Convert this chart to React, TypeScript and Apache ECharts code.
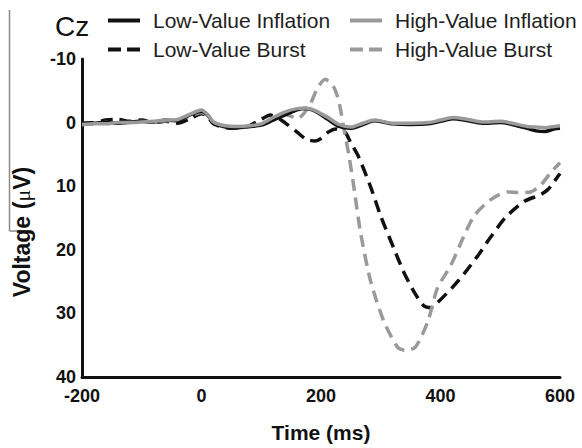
import React, { useEffect, useRef } from "react";
import * as echarts from "echarts";

// Time points (ms) and voltages (µV; positive plotted downward)
const lowInflationT = [-200, -180, -160, -140, -120, -100, -80, -60, -40, -20, 0, 10, 20, 40, 60, 80, 100, 120, 140, 160, 175, 190, 210, 230, 250, 270, 290, 320, 350, 380, 400, 420, 440, 470, 500, 520, 545, 560, 575, 590, 600];
const lowInflationV = [0.2, 0.1, 0.0, 0.1, -0.1, -0.2, -0.1, -0.4, -0.3, -1.2, -1.8, -1.2, 0.0, 0.7, 0.8, 0.6, 0.4, -0.4, -1.2, -2.0, -2.2, -1.8, -0.6, 0.6, 0.9, 0.3, -0.3, 0.2, 0.3, 0.2, -0.2, -0.6, -0.4, 0.1, 0.0, 0.3, 0.9, 1.3, 1.4, 1.0, 0.9];

const highInflationT = [-200, -180, -160, -140, -120, -100, -80, -60, -40, -20, 0, 10, 20, 40, 60, 80, 100, 120, 140, 160, 175, 190, 210, 230, 250, 270, 290, 320, 350, 380, 400, 420, 440, 470, 500, 520, 545, 560, 575, 590, 600];
const highInflationV = [0.3, 0.2, 0.2, 0.0, 0.0, -0.1, -0.2, -0.4, -0.5, -1.3, -2.0, -1.3, -0.1, 0.5, 0.6, 0.5, 0.2, -0.8, -1.7, -2.2, -2.3, -1.9, -0.9, 0.3, 0.7, 0.1, -0.4, 0.1, 0.1, 0.0, -0.4, -0.8, -0.6, -0.1, -0.2, 0.1, 0.6, 0.7, 0.8, 0.6, 0.5];

const lowBurstT = [-200, -180, -160, -140, -120, -100, -80, -60, -40, -20, 0, 10, 20, 40, 60, 80, 100, 115, 130, 145, 160, 175, 190, 200, 212, 225, 240, 250, 263, 283, 300, 322, 338, 355, 372, 384, 395, 420, 440, 462, 484, 509, 540, 568, 580, 590, 600];
const lowBurstV = [0.1, 0.0, -0.4, -0.5, -0.2, -0.4, 0.0, -0.2, 0.1, -0.6, -1.4, -1.0, 0.2, 0.8, 0.9, 0.5, -0.5, -1.2, -0.6, 0.4, 1.5, 2.6, 2.9, 2.5, 1.5, 1.0, 1.5, 3.2, 5.4, 10.1, 14.7, 19.8, 23.4, 26.5, 28.8, 29.1, 28.3, 25.9, 23.7, 21.0, 18.0, 14.9, 12.4, 11.3, 10.5, 9.3, 8.0];

const highBurstT = [-200, -180, -160, -140, -120, -100, -80, -60, -40, -20, 0, 20, 40, 60, 80, 100, 120, 135, 150, 160, 170, 182, 194, 207, 220, 228, 233, 238, 246, 254, 266, 283, 305, 328, 340, 358, 379, 395, 417, 437, 456, 484, 513, 530, 551, 568, 585, 600];
const highBurstV = [0.3, 0.2, 0.0, 0.1, 0.0, -0.2, -0.1, -0.3, -0.4, -1.0, -1.6, -0.1, 0.6, 0.8, 0.6, 0.3, -0.6, -1.4, -1.0, -0.6, -1.3, -2.9, -5.4, -6.8, -5.8, -4.0, -1.9, 0.8, 4.8, 9.5, 17.2, 24.9, 31.2, 35.3, 35.8, 35.3, 31.2, 26.0, 22.5, 18.3, 14.7, 12.1, 10.9, 11.0, 10.9, 9.8, 7.8, 6.3];

const xTicks = { min: -200, max: 600, interval: 200 };
const yTicks = { min: -10, max: 40, interval: 10 };

const seriesNames = ["Low-Value Inflation", "High-Value Inflation", "Low-Value Burst", "High-Value Burst"];

const FONT = '"Liberation Sans", Arial, Helvetica, sans-serif';
const BLACK = "#111111";
const GRAY = "#9a9a9a";

const SOLID_ICON = "path://M0,0H32V4H0Z";
const DASH_ICON = "path://M0,0H13V4H0Z M19,0H32V4H19Z";

const zip = (t: number[], v: number[]) => t.map((x, i) => [x, v[i]]);

export default function App() {
  const ref = useRef<HTMLDivElement>(null);

  useEffect(() => {
    if (!ref.current) return;
    const chart = echarts.init(ref.current, undefined, { renderer: "svg" });

    const mkSeries = (name: string, t: number[], v: number[], color: string, dashed: boolean, z: number) => ({
      name,
      type: "line",
      data: zip(t, v),
      symbol: "none",
      smooth: 0.25,
      z,
      lineStyle: { color, width: 3.5, type: dashed ? [12, 7] : "solid" },
      itemStyle: { color },
    });

    const legendText = { fontFamily: FONT, fontSize: 21, color: "#1e1e1e", padding: [0, 0, 0, 8] };
    const mkLegend = (name: string, left: number, top: number, dashed: boolean) => ({
      data: [{ name, icon: dashed ? DASH_ICON : SOLID_ICON }],
      left,
      top,
      itemWidth: 32,
      itemHeight: 4,
      padding: 0,
      textStyle: legendText,
      selectedMode: false,
    });

    chart.setOption({
      animation: false,
      backgroundColor: "#ffffff",
      grid: { left: 82, right: 22, top: 59, bottom: 68, containLabel: false },
      legend: [
        mkLegend(seriesNames[0], 108, 10, false),
        mkLegend(seriesNames[1], 350, 10, false),
        mkLegend(seriesNames[2], 108, 39, true),
        mkLegend(seriesNames[3], 350, 39, true),
      ],
      xAxis: {
        type: "value",
        min: xTicks.min,
        max: xTicks.max,
        interval: xTicks.interval,
        name: "Time (ms)",
        nameLocation: "middle",
        nameGap: 45,
        nameTextStyle: { fontFamily: FONT, fontSize: 21, fontWeight: "bold", color: BLACK },
        axisLine: { show: true, onZero: false, lineStyle: { color: BLACK, width: 3 } },
        axisTick: { show: false },
        splitLine: { show: false },
        axisLabel: { fontFamily: FONT, fontSize: 18, fontWeight: "bold", color: BLACK, margin: 10 },
      },
      yAxis: {
        type: "value",
        inverse: true,
        min: yTicks.min,
        max: yTicks.max,
        interval: yTicks.interval,
        axisLine: { show: true, onZero: false, lineStyle: { color: BLACK, width: 3 } },
        axisTick: { show: false },
        splitLine: { show: false },
        axisLabel: { fontFamily: FONT, fontSize: 18, fontWeight: "bold", color: BLACK, margin: 6 },
      },
      graphic: [
        {
          type: "line",
          shape: { x1: 9.5, y1: 10, x2: 9.5, y2: 231 },
          style: { stroke: "#8a8a8a", lineWidth: 1.5 },
        },
        {
          type: "line",
          shape: { x1: 9.5, y1: 231, x2: 31, y2: 231 },
          style: { stroke: "#8a8a8a", lineWidth: 1.5 },
        },
        {
          type: "text",
          x: 55,
          y: 12,
          style: {
            text: "Cz",
            fontFamily: FONT,
            fontSize: 28,
            fill: BLACK,
          },
        },
        {
          type: "text",
          x: 22,
          y: 232,
          rotation: Math.PI / 2,
          style: {
            text: "{b|Voltage}  {b|(}{m|μ}{b|V)}",
            textAlign: "center",
            textVerticalAlign: "middle",
            fill: BLACK,
            rich: {
              b: { fontFamily: FONT, fontSize: 23, fontWeight: "bold", fill: BLACK, color: BLACK },
              m: { fontFamily: '"Liberation Serif", serif', fontSize: 22, fontWeight: "normal", fill: BLACK, color: BLACK },
            },
          },
        },
      ],
      series: [
        mkSeries(seriesNames[0], lowInflationT, lowInflationV, BLACK, false, 3),
        mkSeries(seriesNames[1], highInflationT, highInflationV, GRAY, false, 4),
        mkSeries(seriesNames[2], lowBurstT, lowBurstV, BLACK, true, 2),
        mkSeries(seriesNames[3], highBurstT, highBurstV, GRAY, true, 2),
      ],
    });

    return () => chart.dispose();
  }, []);

  return <div ref={ref} style={{ position: "absolute", left: 0, top: 0, width: 582, height: 448 }} />;
}
